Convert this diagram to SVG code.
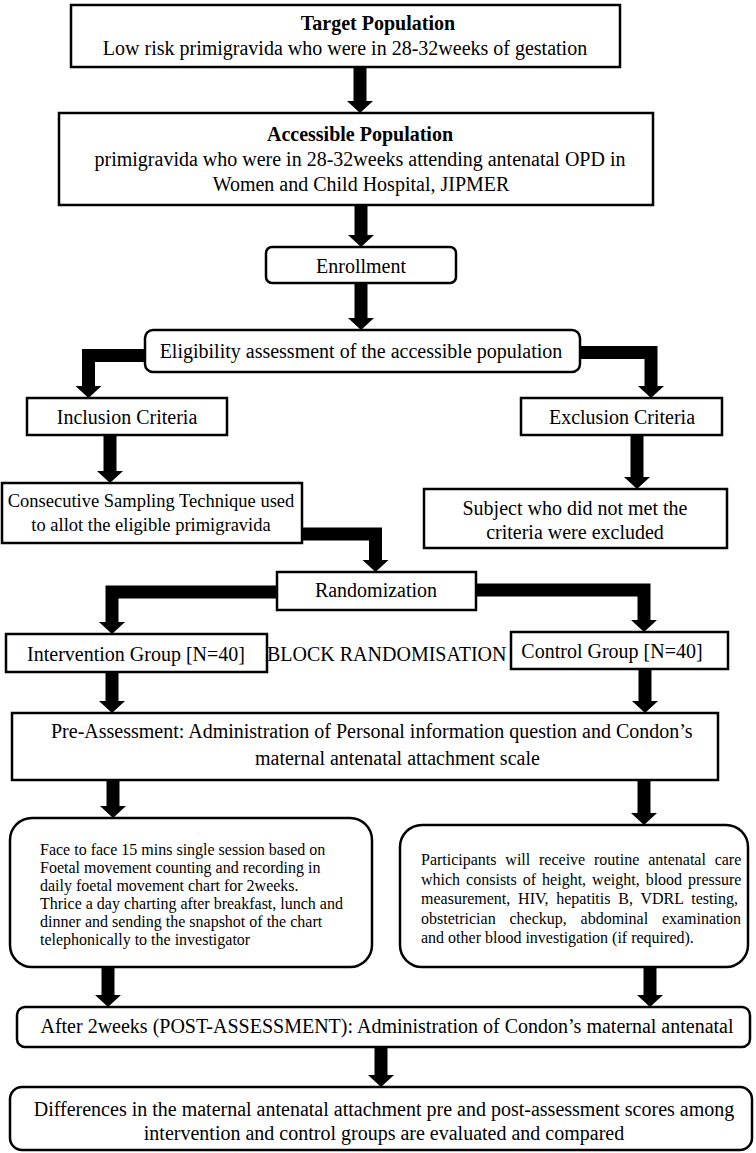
<svg xmlns="http://www.w3.org/2000/svg" width="756" height="1153" viewBox="0 0 756 1153">
<style>
.box{fill:#fff;stroke:#000;stroke-width:2.5}
.t{font-family:"Liberation Serif","Times New Roman",serif;font-size:20px;fill:#000}
.c{text-anchor:middle}
.b{font-weight:bold}
.s{font-size:16px}
.conn{fill:none;stroke:#000;stroke-width:13;stroke-linejoin:miter;marker-end:url(#head)}
</style>
<defs>
<marker id="head" markerUnits="userSpaceOnUse" markerWidth="12" markerHeight="26" viewBox="0 0 12 26" refX="0" refY="13" orient="auto">
<path d="M0,0 L12,13 L0,26 z" fill="#000"/>
</marker>
</defs>
<rect width="756" height="1153" fill="#fff"/>
<g id="connectors">
<path class="conn" d="M360,67 V101"/>
<path class="conn" d="M361,205 V235"/>
<path class="conn" d="M361,283 V318"/>
<path class="conn" d="M146,355.5 H88.5 V386"/>
<path class="conn" d="M579,352.5 H651 V386"/>
<path class="conn" d="M110,435 V471"/>
<path class="conn" d="M637,435 V477"/>
<path class="conn" d="M301,534 H375.5 V560"/>
<path class="conn" d="M278,592 H112 V622"/>
<path class="conn" d="M475,590 H644 V620"/>
<path class="conn" d="M112,672 V701"/>
<path class="conn" d="M645,669 V701"/>
<path class="conn" d="M113,780 V806"/>
<path class="conn" d="M644,780 V813"/>
<path class="conn" d="M108,967 V995"/>
<path class="conn" d="M650,967 V995"/>
<path class="conn" d="M381,1047 V1075"/>
</g>
<g id="target">
<rect class="box" x="71" y="5" width="549" height="62"/>
<text class="t c b" x="378" y="30">Target Population</text>
<text class="t c" x="345" y="55">Low risk primigravida who were in 28-32weeks of gestation</text>
</g>
<g id="accessible">
<rect class="box" x="59" y="113" width="594" height="92"/>
<text class="t c b" x="360" y="141">Accessible Population</text>
<text class="t c" x="360" y="166">primigravida who were in 28-32weeks attending antenatal OPD in</text>
<text class="t c" x="361" y="191">Women and Child Hospital, JIPMER</text>
</g>
<g id="enrollment">
<rect class="box" x="266" y="247" width="190" height="36" rx="6"/>
<text class="t c" x="361" y="273">Enrollment</text>
</g>
<g id="eligibility">
<rect class="box" x="145" y="330" width="435" height="42" rx="8"/>
<text class="t c" x="361" y="358">Eligibility assessment of the accessible population</text>
</g>
<g id="inclusion">
<rect class="box" x="27" y="398" width="200" height="37"/>
<text class="t c" x="127" y="424">Inclusion Criteria</text>
</g>
<g id="exclusion">
<rect class="box" x="521" y="398" width="201" height="37"/>
<text class="t c" x="622" y="424">Exclusion Criteria</text>
</g>
<g id="consecutive">
<rect class="box" x="2" y="483" width="300" height="60"/>
<text class="t c" x="151" y="507" style="font-size:18.5px">Consecutive Sampling Technique used</text>
<text class="t c" x="151" y="531" style="font-size:18.5px">to allot the eligible primigravida</text>
</g>
<g id="subject">
<rect class="box" x="424" y="489" width="303" height="59"/>
<text class="t c" x="575" y="515">Subject who did not met the</text>
<text class="t c" x="575" y="539">criteria were excluded</text>
</g>
<g id="randomization">
<rect class="box" x="277" y="572" width="199" height="38"/>
<text class="t c" x="376" y="597">Randomization</text>
</g>
<g id="intervention">
<rect class="box" x="6" y="634" width="261" height="38"/>
<text class="t c" x="136" y="661">Intervention Group [N=40]</text>
</g>
<g id="block">
<text class="t" x="267" y="661">BLOCK RANDOMISATION</text>
</g>
<g id="control">
<rect class="box" x="511" y="632" width="217" height="37"/>
<text class="t c" x="612" y="658">Control Group [N=40]</text>
</g>
<g id="pre">
<rect class="box" x="12" y="713" width="706" height="67"/>
<text class="t" x="51" y="738">Pre-Assessment: Administration of Personal information question and Condon’s</text>
<text class="t" x="255" y="765">maternal antenatal attachment scale</text>
</g>
<g id="intervention-detail">
<rect class="box" x="10" y="818" width="362" height="149" rx="22"/>
<text class="t s" x="40" y="855">Face to face 15 mins single session based on</text>
<text class="t s" x="40" y="873">Foetal movement counting and recording in</text>
<text class="t s" x="40" y="891">daily foetal movement chart for 2weeks.</text>
<text class="t s" x="40" y="909">Thrice a day charting after breakfast, lunch and</text>
<text class="t s" x="40" y="927">dinner and sending the snapshot of the chart</text>
<text class="t s" x="40" y="945">telephonically to the investigator</text>
</g>
<g id="control-detail">
<rect class="box" x="400" y="825" width="348" height="142" rx="22"/>
<text class="t s" x="421" y="865" style="word-spacing:4.8px">Participants will receive routine antenatal care</text>
<text class="t s" x="421" y="885" style="word-spacing:2px">which consists of height, weight, blood pressure</text>
<text class="t s" x="421" y="904" style="word-spacing:3.8px">measurement, HIV, hepatitis B, VDRL testing,</text>
<text class="t s" x="421" y="924" style="word-spacing:9.8px">obstetrician checkup, abdominal examination</text>
<text class="t s" x="421" y="943">and other blood investigation (if required).</text>
</g>
<g id="post">
<rect class="box" x="17" y="1007" width="733" height="40" rx="8"/>
<text class="t c" x="387" y="1033">After 2weeks (POST-ASSESSMENT): Administration of Condon’s maternal antenatal</text>
</g>
<g id="final">
<rect class="box" x="10" y="1087" width="742" height="63" rx="12"/>
<text class="t c" x="384" y="1116">Differences in the maternal antenatal attachment pre and post-assessment scores among</text>
<text class="t c" x="384" y="1140">intervention and control groups are evaluated and compared</text>
</g>
</svg>
